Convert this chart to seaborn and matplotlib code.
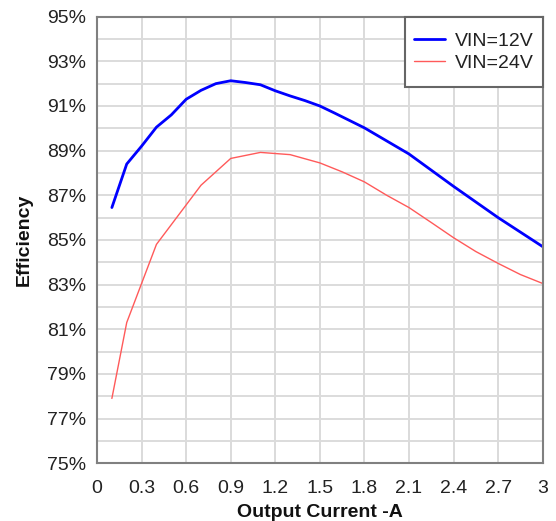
import matplotlib
matplotlib.use("Agg")
import matplotlib.pyplot as plt
from matplotlib.patches import Rectangle
import seaborn as sns
import pandas as pd

# Efficiency curves of the converter versus load current
current_12v = [0.1, 0.2, 0.3, 0.4, 0.5, 0.6, 0.7, 0.8, 0.9, 1.0, 1.1, 1.2, 1.3, 1.4,
               1.5, 1.6, 1.8, 2.1, 2.4, 2.7, 3.0]
eff_12v = [86.45, 88.4, 89.2, 90.05, 90.6, 91.3, 91.7, 92.0, 92.13, 92.05, 91.95, 91.68,
           91.45, 91.24, 91.0, 90.68, 90.02, 88.85, 87.4, 86.0, 84.7]

current_24v = [0.1, 0.2, 0.4, 0.7, 0.9, 1.1, 1.3, 1.5, 1.65, 1.8, 1.95, 2.1, 2.25, 2.4,
               2.55, 2.7, 2.85, 3.0]
eff_24v = [77.9, 81.3, 84.8, 87.45, 88.65, 88.92, 88.82, 88.45, 88.05, 87.6, 87.0, 86.45,
           85.78, 85.1, 84.48, 83.95, 83.45, 83.05]

series_names = ["VIN=12V", "VIN=24V"]
x_ticks = [0, 0.3, 0.6, 0.9, 1.2, 1.5, 1.8, 2.1, 2.4, 2.7, 3.0]
x_tick_labels = ["0", "0.3", "0.6", "0.9", "1.2", "1.5", "1.8", "2.1", "2.4", "2.7", "3"]
y_ticks = [75, 77, 79, 81, 83, 85, 87, 89, 91, 93, 95]
y_tick_labels = [f"{v}%" for v in y_ticks]

df = pd.concat([
    pd.DataFrame({"current": current_12v, "eff": eff_12v, "vin": series_names[0]}),
    pd.DataFrame({"current": current_24v, "eff": eff_24v, "vin": series_names[1]}),
])

sns.set_style("white")
plt.rcParams["font.family"] = ["Liberation Sans", "DejaVu Sans"]

fig = plt.figure(figsize=(5.56, 5.21), dpi=100)
ax = fig.add_axes([0.1745, 0.111, 0.8015, 0.857])

palette = {series_names[0]: "#0000ff", series_names[1]: "#ff5a5a"}
sns.lineplot(data=df, x="current", y="eff", hue="vin", palette=palette,
             sort=False, estimator=None, ax=ax, legend=False)
ax.lines[0].set_linewidth(2.0)
ax.lines[1].set_linewidth(1.0)

ax.set_xlim(0, 3)
ax.set_ylim(75, 95)

# Light grid: every 0.3 A and every 1 %
for xv in x_ticks[1:-1]:
    ax.axvline(xv, color="#d4d4d4", lw=1.2, zorder=0)
for yv in range(76, 95):
    ax.axhline(yv, color="#dcdcdc", lw=1.4, zorder=0)

ax.set_xticks(x_ticks)
ax.set_xticklabels(x_tick_labels)
ax.set_yticks(y_ticks)
ax.set_yticklabels(y_tick_labels)
ax.tick_params(axis="both", length=0, labelsize=14, colors="#222222")
ax.tick_params(axis="x", pad=12)
ax.tick_params(axis="y", pad=8)

for s in ax.spines.values():
    s.set_color("#808080")
    s.set_linewidth(1.5)
    s.set_visible(True)

ax.set_xlabel("Output Current -A", fontsize=14, fontweight="bold", color="#111111", labelpad=5)
ax.set_ylabel("Efficiency", fontsize=14, fontweight="bold", color="#111111", labelpad=10)

# Legend box pinned to the top-right corner of the plot area
box = (0.691, 0.842, 0.309, 0.158)
ax.add_patch(Rectangle(box[:2], box[2], box[3], transform=ax.transAxes,
                       facecolor="white", edgecolor="#666666", lw=1.5,
                       zorder=5, clip_on=False))
leg = ax.legend(handles=ax.lines[:2], labels=series_names, loc="center",
                bbox_to_anchor=box, borderaxespad=0, fontsize=14,
                frameon=False, handlelength=1.6, handletextpad=0.5,
                labelspacing=0.2, borderpad=0.2)
leg.set_zorder(6)
for t in leg.get_texts():
    t.set_color("#222222")

fig.savefig("out.png", dpi=100)
